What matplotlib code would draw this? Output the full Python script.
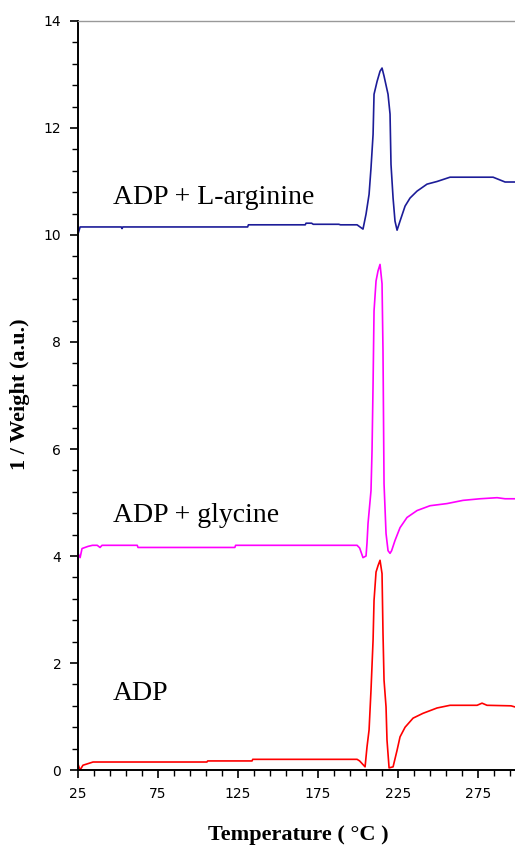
import numpy as np
import matplotlib
matplotlib.use("Agg")
import matplotlib.pyplot as plt
from matplotlib.ticker import FixedLocator

# temperatures (C) and 1/weight values
t_arg = [25, 26.3, 52, 52.5, 53, 131, 131.5, 167, 167.5, 171, 172, 188, 189, 199.4,
         203.1, 205, 206.9, 208.1, 209.4, 210, 211.9, 213.75, 215, 216.25, 217.5,
         218.75, 220, 220.6, 221.9, 223.1, 224.4, 226.25, 229.4, 232.5, 236.9,
         243.1, 249.4, 257.5, 284.4, 291.9, 298]
y_arg = [10.02, 10.15, 10.15, 10.12, 10.15, 10.15, 10.19, 10.19, 10.22, 10.22, 10.20,
         10.20, 10.19, 10.19, 10.11, 10.39, 10.76, 11.25, 11.88, 12.63, 12.87,
         13.06, 13.12, 12.97, 12.8, 12.63, 12.26, 11.32, 10.69, 10.26, 10.09,
         10.26, 10.54, 10.69, 10.82, 10.95, 11.0, 11.08, 11.08, 10.99, 10.99]

t_gly = [25, 26.3, 27.5, 31.25, 34, 37, 38.75, 40, 62, 62.5, 123, 123.5, 199.4,
         201, 203.1, 205, 205.6, 206.25, 208.1, 208.75, 209.4, 210, 211.25,
         212.5, 213.75, 215, 215.6, 216.0, 216.25, 217.5, 218.75, 220, 221,
         223.1, 226.25, 230.6, 236.9, 245, 255.6, 265.6, 276.25, 286.9, 291.9, 298]
y_gly = [4.05, 3.97, 4.14, 4.18, 4.2, 4.2, 4.16, 4.2, 4.2, 4.16, 4.16, 4.2, 4.2,
         4.15, 3.97, 4.0, 4.24, 4.61, 5.22, 5.97, 7.22, 8.58, 9.14,
         9.33, 9.45, 9.09, 7.84, 6.29, 5.35, 4.42, 4.1, 4.05, 4.1,
         4.29, 4.53, 4.72, 4.85, 4.94, 4.98, 5.04, 5.07, 5.09, 5.07, 5.07]

t_adp = [25, 26.25, 28.1, 34.4, 105.6, 106, 133.75, 134.2, 199.4, 201, 204.4,
         205.6, 206.9, 208.1, 209.4, 210, 211.25, 212.5, 213.75, 215, 215.6,
         216.25, 217.5, 218.1, 219.4, 221.9, 224.4, 226.25, 229.4, 234.4,
         240.6, 249.4, 257.5, 274.4, 277.5, 280.6, 295.6, 298]
y_adp = [0.11, 0.0, 0.09, 0.15, 0.15, 0.17, 0.17, 0.2, 0.2, 0.17, 0.06,
         0.43, 0.75, 1.49, 2.43, 3.17, 3.7, 3.82, 3.92, 3.67, 2.56,
         1.68, 1.18, 0.56, 0.04, 0.06, 0.37, 0.62, 0.8, 0.97,
         1.06, 1.16, 1.21, 1.21, 1.25, 1.21, 1.2, 1.18]

x_ticks = [25, 75, 125, 175, 225, 275]
y_ticks = [0, 2, 4, 6, 8, 10, 12, 14]

fig = plt.figure(figsize=(5.15, 8.52), dpi=100)
ax = fig.add_axes([0.1515, 0.0962, 0.8485, 0.8792])

ax.plot(t_arg, y_arg, color='#1c1c98', lw=1.2)
ax.plot(t_gly, y_gly, color='#ff00ff', lw=1.2)
ax.plot(t_adp, y_adp, color='#ff0000', lw=1.2)

ax.set_xlim(25, 298.1)
ax.set_ylim(0, 14)

ax.xaxis.set_major_locator(FixedLocator(x_ticks))
ax.xaxis.set_minor_locator(FixedLocator(np.arange(25, 300, 10)))
ax.yaxis.set_major_locator(FixedLocator(y_ticks))
ax.yaxis.set_minor_locator(FixedLocator(np.arange(0, 14.01, 0.4)))

ax.tick_params(which='major', direction='out', length=6, width=1.2, labelsize=10, pad=6)
ax.tick_params(which='minor', direction='out', length=4, width=1.0)

for lab in ax.get_xticklabels() + ax.get_yticklabels():
    lab.set_family('DejaVu Sans')

ax.spines['left'].set_linewidth(1.4)
ax.spines['bottom'].set_linewidth(1.4)
ax.spines['top'].set_color('#999999')
ax.spines['top'].set_linewidth(1.0)
ax.spines['right'].set_visible(False)

txt = dict(family='Liberation Serif', fontsize=20, va='baseline', ha='left')
ax.text(46.9, 10.58, 'ADP + L-arginine', **txt)
ax.text(46.9, 4.63, 'ADP + glycine', **txt)
ax.text(46.9, 1.31, 'ADP', **txt)

# axis titles placed in figure pixels fractions
fig.text(298 / 515, 1 - 835 / 852, 'Temperature ( °C )', family='Liberation Serif',
         fontweight='bold', fontsize=16, ha='center', va='center')
fig.text(20 / 515, 1 - 394 / 852, '1 / Weight (a.u.)', family='Liberation Serif',
         fontweight='bold', fontsize=16, ha='center', va='center', rotation=90)

fig.savefig('out.png', dpi=100)
